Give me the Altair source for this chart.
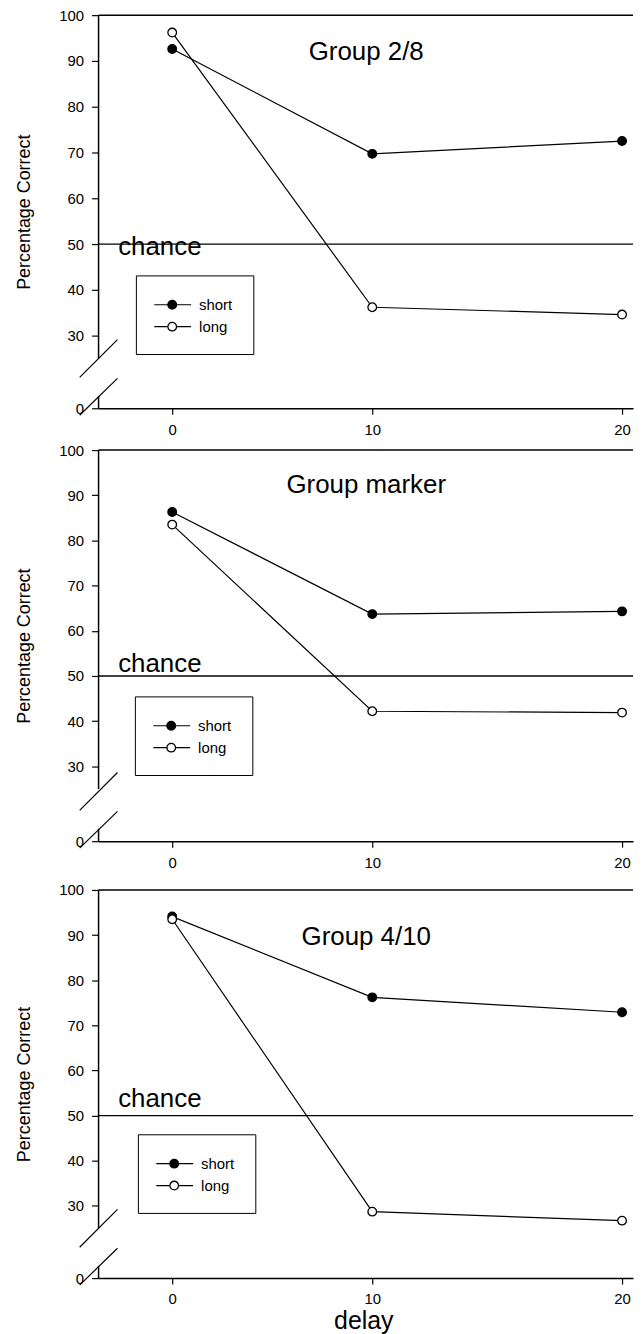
import altair as alt
import pandas as pd

# ---------------- data ----------------
delays = [0, 10, 20]
series_names = ["short", "long"]
group_titles = ["Group 2/8", "Group marker", "Group 4/10"]

short_2_8 = [92.6, 69.7, 72.5]
long_2_8 = [96.2, 36.2, 34.6]
short_marker = [86.3, 63.7, 64.3]
long_marker = [83.5, 42.2, 41.9]
short_4_10 = [94.1, 76.2, 72.9]
long_4_10 = [93.5, 28.7, 26.7]

y_ticks = [0, 30, 40, 50, 60, 70, 80, 90, 100]
x_ticks = [0, 10, 20]
chance_level = 50

# ---------------- layout / style ----------------
FONT = "Liberation Sans"
W = 537

x_scale = alt.Scale(domain=[-3.68, 0, 10, 20, 20.44], range=[0, 74, 275, 526, W],
                    nice=False, zero=False)
fill_scale = alt.Scale(domain=series_names, range=["black", "white"])
one = pd.DataFrame({"k": [0]})


def panel(title, short, long, H, brk, title_y, chance_y, leg_left, leg_top,
          show_xtitle, extra_bottom=0):
    df = pd.DataFrame({
        "delay": delays * 2,
        "pct": short + long,
        "series": [series_names[0]] * len(delays) + [series_names[1]] * len(delays),
    })
    y_scale = alt.Scale(domain=[0, 25, 100], range=[H, brk, 0], nice=False, zero=False)

    if show_xtitle:
        x_enc = alt.X("delay:Q", scale=x_scale, title="delay",
                      axis=alt.Axis(values=x_ticks, tickSize=6, labelPadding=8,
                                    titleFontSize=25, titlePadding=2, titleX=266,
                                    domainWidth=1.5))
    else:
        x_enc = alt.X("delay:Q", scale=x_scale, title=None,
                      axis=alt.Axis(values=x_ticks, tickSize=6, labelPadding=8,
                                    domainWidth=1.5))
    y_enc = alt.Y("pct:Q", scale=y_scale, title="Percentage Correct",
                  axis=alt.Axis(values=y_ticks, domain=False, tickSize=7, labelPadding=8,
                                titleFontSize=18, titlePadding=25))

    base = alt.Chart(df)
    lines = base.mark_line(color="black", strokeWidth=1.2).encode(
        x=x_enc, y=y_enc, detail="series:N")
    pts = base.mark_circle(size=75, stroke="black", strokeWidth=1.3, opacity=1).encode(
        x="delay:Q", y="pct:Q",
        fill=alt.Fill("series:N", scale=fill_scale, legend=None))

    c1 = alt.Chart(one)
    top_rule = c1.mark_rule(color="black", strokeWidth=1.5).encode(
        x=alt.value(0), x2=alt.value(W), y=alt.datum(100))
    chance_rule = c1.mark_rule(color="black", strokeWidth=1.3).encode(
        x=alt.value(0), x2=alt.value(W), y=alt.datum(chance_level))
    yax_up = c1.mark_rule(color="black", strokeWidth=1.5).encode(
        x=alt.value(0), y=alt.datum(25), y2=alt.datum(100))
    yax_lo = c1.mark_rule(color="black", strokeWidth=1.5).encode(
        x=alt.value(0), y=alt.datum(0), y2=alt.datum(6))
    slash_up = c1.mark_rule(color="black", strokeWidth=1.2).encode(
        x=alt.value(-19), x2=alt.value(19), y=alt.value(H - 31), y2=alt.value(H - 69))
    slash_lo = c1.mark_rule(color="black", strokeWidth=1.2).encode(
        x=alt.value(-19), x2=alt.value(19), y=alt.value(H + 7), y2=alt.value(H - 30))

    title_txt = alt.Chart(pd.DataFrame({"t": [title]})).mark_text(
        font=FONT, fontSize=26, align="center", baseline="alphabetic", color="black").encode(
        x=alt.datum(9.7), y=alt.datum(title_y), text="t:N")
    chance_txt = alt.Chart(pd.DataFrame({"t": ["chance"]})).mark_text(
        font=FONT, fontSize=26, align="left", baseline="alphabetic", color="black").encode(
        x=alt.datum(-2.7), y=alt.datum(chance_y), text="t:N")

    leg_box = c1.mark_rect(fill="white", stroke="black", strokeWidth=1).encode(
        x=alt.value(leg_left), x2=alt.value(leg_left + 118),
        y=alt.value(leg_top), y2=alt.value(leg_top + 79))
    leg_df = pd.DataFrame({"series": series_names, "i": list(range(len(series_names)))})
    leg = alt.Chart(leg_df).transform_calculate(ly=f"{leg_top + 29} + datum.i * 22")
    leg_line = leg.mark_rule(color="black", strokeWidth=1.2).encode(
        x=alt.value(leg_left + 18), x2=alt.value(leg_left + 55),
        y=alt.Y("ly:Q", scale=None))
    leg_pt = leg.mark_circle(size=75, stroke="black", strokeWidth=1.3, opacity=1).encode(
        x=alt.value(leg_left + 36), y=alt.Y("ly:Q", scale=None),
        fill=alt.Fill("series:N", scale=fill_scale, legend=None))
    leg_txt = leg.mark_text(font=FONT, fontSize=15, align="left", baseline="middle",
                            color="black").encode(
        x=alt.value(leg_left + 63), y=alt.Y("ly:Q", scale=None), text="series:N")

    layers = [lines, top_rule, chance_rule, yax_up, yax_lo, slash_up, slash_lo,
              title_txt, chance_txt, leg_box, leg_line, leg_pt, leg_txt, pts]
    if extra_bottom:
        spacer = c1.mark_rule(strokeOpacity=0).encode(
            x=alt.value(0), x2=alt.value(10), y=alt.value(H + extra_bottom))
        layers.append(spacer)
    return alt.layer(*layers).properties(width=W, height=H)


p1 = panel(group_titles[0], short_2_8, long_2_8, 395, 345, 90.2, 47.6, 38, 262, False)
p2 = panel(group_titles[1], short_marker, long_marker, 393, 340.5, 90.5, 50.8, 37, 248, False,
           extra_bottom=36)
p3 = panel(group_titles[2], short_4_10, long_4_10, 390, 340, 87.9, 51.9, 40, 246, True)

chart = alt.vconcat(p1, p2, p3, spacing=6).properties(
    padding={"left": 7, "top": -3, "right": 0, "bottom": 0}
).configure_axis(
    labelFont=FONT, labelFontSize=15, labelColor="black",
    titleFont=FONT, titleColor="black", titleFontWeight="normal",
    tickColor="black", domainColor="black", grid=False, tickWidth=1.2
).configure_view(stroke=None)

chart.save("out.html", embed_options={"renderer": "svg", "actions": False})
